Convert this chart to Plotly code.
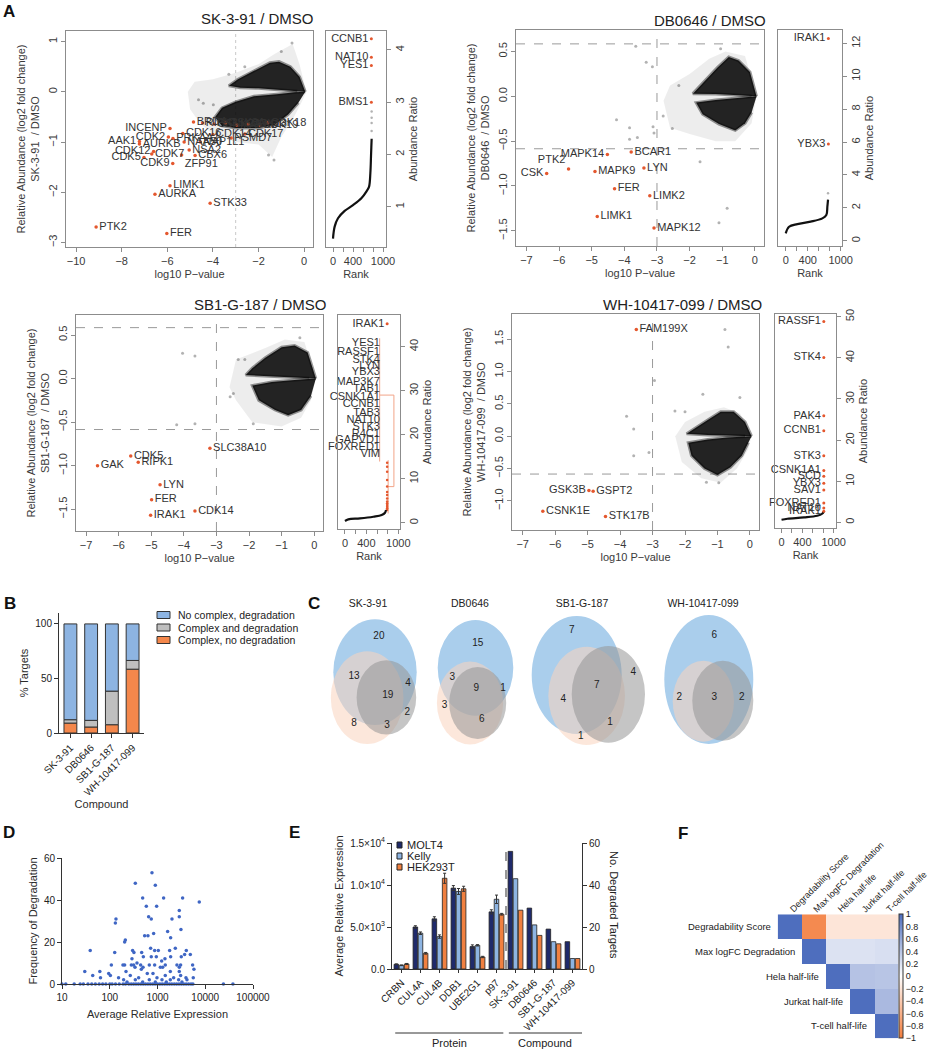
import plotly.graph_objects as go

W, H = 928, 1050
FONT = "Liberation Sans, Arial, Helvetica, sans-serif"
INK = "#2b2b2b"
RED_PT = "#E4572E"

# ======================= DATA =======================
# ---- Panel A1 : SK-3-91 / DMSO (volcano) ----
sk_genes = ["PTK2", "FER", "AURKA", "LIMK1", "STK33", "CDK9", "ZFP91", "CBX6", "NSA2", "CDK7",
            "CDK5", "CDK12", "AURKB", "AAK1", "CDK2", "INCENP",
            "PRKAA1", "CDK16", "NAA50", "NAP1L1", "CDK14", "PSMD7", "CDK17",
            "BRD4", "RIPK2", "CSNK2A2", "GSK3A", "MAPK3", "CDK13", "CDK19", "CDK18"]
sk_logp = [-9.12, -6.02, -6.54, -5.88, -4.12, -5.76, -5.37, -4.78, -5.04, -6.68,
           -7.02, -6.60, -7.22, -7.22, -5.95, -5.88,
           -5.75, -5.32, -5.26, -4.55, -4.00, -3.20, -2.60,
           -4.85, -4.45, -3.95, -3.45, -2.95, -2.45, -1.95, -1.60]
sk_lfc = [-2.69, -2.82, -2.04, -1.87, -2.22, -1.43, -1.26, -1.27, -1.16, -1.24,
          -1.31, -1.19, -1.04, -0.99, -0.90, -0.73,
          -0.93, -0.83, -1.00, -1.00, -0.85, -0.92, -0.84,
          -0.60, -0.62, -0.64, -0.62, -0.66, -0.64, -0.66, -0.62]
sk_halo_x = [0.1, -0.2, -0.5, -0.9, -1.3, -2.0, -3.0, -4.0, -4.8, -5.1, -5.0, -4.6, -4.0, -3.0, -2.0, -1.4, -1.0, -0.5, -0.1]
sk_halo_y = [0.0, 0.55, 0.95, 0.85, 0.75, 0.55, 0.38, 0.25, 0.2, 0.0, -0.35, -0.6, -0.85, -1.0, -1.05, -1.3, -0.9, -0.55, -0.2]
sk_up_x = [0.05, -0.2, -0.6, -1.1, -1.5, -2.2, -2.9, -3.3, -2.8, -2.0, -1.0, -0.3]
sk_up_y = [0.0, 0.3, 0.5, 0.6, 0.58, 0.42, 0.25, 0.12, 0.08, 0.07, 0.04, 0.01]
sk_lo_x = [0.05, -0.4, -1.2, -2.2, -3.0, -3.6, -3.9, -3.6, -3.0, -2.0, -1.3, -0.7, -0.25]
sk_lo_y = [0.0, -0.01, -0.05, -0.09, -0.2, -0.32, -0.5, -0.68, -0.72, -0.72, -0.66, -0.45, -0.22]
sk_out_x = [-0.53, -1.32, -1.56, -4.42, -3.98, -4.63, -2.6, -3.3, -1.0]
sk_out_y = [0.97, -1.36, -1.26, -0.23, -0.26, -0.16, 0.5, 0.35, 0.8]
# SK-3-91 rank plot
sk_rank_curve_x = [0, 33, 100, 233, 400, 567, 667, 720, 747, 760, 767, 773]
sk_rank_curve_y = [0.39, 0.62, 0.78, 0.92, 1.03, 1.16, 1.29, 1.38, 1.64, 1.96, 2.15, 2.3]
sk_rank_sparse_x = [773, 773, 773, 773]
sk_rank_sparse_y = [2.45, 2.6, 2.7, 2.82]
sk_rank_genes = ["CCNB1", "NAT10", "YES1", "BMS1"]
sk_rank_x = [767, 767, 767, 767]
sk_rank_y = [4.21, 3.86, 3.70, 3.0]

# ---- Panel A2 : DB0646 / DMSO ----
db_genes = ["MAPK14", "BCAR1", "PTK2", "CSK", "MAPK9", "LYN", "FER", "LIMK2", "LIMK1", "MAPK12"]
db_logp = [-4.52, -3.79, -5.71, -6.38, -4.90, -3.40, -4.30, -3.22, -4.83, -3.09]
db_lfc = [-0.65, -0.62, -0.81, -0.86, -0.84, -0.80, -1.03, -1.11, -1.34, -1.47]
db_halo_x = [0.05, -0.3, -0.9, -1.4, -2.0, -2.6, -2.8, -2.6, -2.0, -1.2, -0.6, -0.1]
db_halo_y = [0.0, 0.45, 0.5, 0.42, 0.25, 0.12, -0.05, -0.35, -0.42, -0.5, -0.5, -0.3]
db_up_x = [0.05, -0.15, -0.5, -0.8, -1.15, -1.6, -1.9, -1.2, -0.6, -0.1]
db_up_y = [0.0, 0.27, 0.4, 0.44, 0.32, 0.14, 0.03, 0.025, 0.015, 0.004]
db_lo_x = [0.05, -0.1, -0.6, -1.2, -1.8, -1.6, -1.1, -0.6, -0.3, -0.1]
db_lo_y = [0.0, -0.004, -0.02, -0.04, -0.07, -0.2, -0.31, -0.38, -0.3, -0.18]
db_out_x = [-3.65, -3.33, -3.14, -1.05, -4.24, -3.84, -3.60, -3.84, -3.12, -3.09, -2.81, -2.53, -2.33, -1.68, -0.85, -1.10]
db_out_y = [0.56, 0.38, 0.33, 0.53, -0.26, -0.35, -0.46, -0.48, -0.34, -0.41, -0.22, -0.36, 0.12, -0.73, -1.25, -1.41]
db_rank_curve_x = [0, 61, 212, 455, 667, 739, 758, 770]
db_rank_curve_y = [0.45, 0.85, 1.01, 1.16, 1.36, 1.56, 2.07, 2.5]
db_rank_sparse_x = [770]
db_rank_sparse_y = [2.88]
db_rank_genes = ["IRAK1", "YBX3"]
db_rank_x = [776, 776]
db_rank_y = [12.3, 5.88]

# ---- Panel A3 : SB1-G-187 / DMSO ----
sb_genes = ["SLC38A10", "CDK5", "RIPK1", "GAK", "LYN", "FER", "IRAK1", "CDK14"]
sb_logp = [-3.20, -5.63, -5.40, -6.65, -4.73, -4.99, -5.02, -3.66]
sb_lfc = [-0.80, -0.89, -0.96, -1.00, -1.22, -1.39, -1.57, -1.52]
sb_halo_x = [0.05, -0.3, -0.9, -1.5, -2.4, -2.6, -2.4, -1.9, -1.0, -0.4, -0.1]
sb_halo_y = [0.0, 0.42, 0.45, 0.35, 0.22, -0.1, -0.25, -0.5, -0.55, -0.45, -0.25]
sb_up_x = [0.05, -0.2, -0.6, -1.0, -1.5, -1.9, -2.1, -1.2, -0.5, -0.15]
sb_up_y = [0.0, 0.3, 0.38, 0.36, 0.24, 0.12, 0.04, 0.02, 0.008, 0.003]
sb_lo_x = [0.05, -0.15, -0.6, -1.3, -1.9, -1.7, -1.2, -0.8, -0.4, -0.1]
sb_lo_y = [0.0, -0.004, -0.015, -0.04, -0.08, -0.25, -0.36, -0.42, -0.36, -0.2]
sb_out_x = [-4.04, -3.66, -4.22, -3.66, -2.48, -2.58, -1.87, -0.44, -2.33, -2.13]
sb_out_y = [0.29, 0.26, -0.53, -0.52, -0.17, -0.21, -0.52, 0.47, 0.22, 0.22]
sb_rank_curve_x = [0, 62, 281, 531, 687, 750, 769]
sb_rank_curve_y = [0.38, 0.76, 0.98, 1.36, 1.74, 2.27, 2.88]
sb_rank_red_x = [790] * 14
sb_rank_red_y = [13.6, 12.7, 11.6, 9.7, 8.2, 7.0, 6.3, 5.5, 4.8, 4.4, 4.0, 3.6, 3.3, 2.9]
sb_rank_top_gene = ["IRAK1"]
sb_rank_top_x = [790]
sb_rank_top_y = [45.2]
sb_rank_list_genes = ["YES1", "RASSF1", "STK4", "LYN", "YBX3", "MAP3K7", "TAB1", "CSNK1A1", "CCNB1",
                      "TAB3", "NAT10", "STK3", "R4C1", "GAPVD1", "FOXRED1", "VIM"]
sb_rank_list_y = [40.8, 38.7, 37.0, 35.6, 34.1, 32.0, 30.3, 28.5, 26.9, 24.8, 23.3, 21.8, 20.2, 18.8, 17.1, 15.5]
sb_bracket_x = [650, 650, None, 650, 917, None, 917, 917, None, 809, 917, None, 809, 809]
sb_bracket_y = [41.9, 13.9, None, 29.0, 29.0, None, 29.0, 8.2, None, 8.2, 8.2, None, 14.2, 2.1]

# ---- Panel A4 : WH-10417-099 / DMSO ----
wh_genes = ["FAM199X", "GSK3B", "GSPT2", "CSNK1E", "STK17B"]
wh_logp = [-3.50, -4.96, -4.83, -6.38, -4.45]
wh_lfc = [1.65, -0.84, -0.85, -1.16, -1.24]
wh_halo_x = [0.05, -0.3, -0.8, -1.4, -2.0, -2.3, -2.1, -1.5, -0.9, -0.4, -0.05]
wh_halo_y = [0.0, 0.35, 0.45, 0.38, 0.22, 0.0, -0.4, -0.65, -0.72, -0.5, -0.2]
wh_up_x = [0.05, -0.15, -0.5, -0.9, -1.3, -1.7, -1.95, -1.3, -0.6, -0.15]
wh_up_y = [0.0, 0.22, 0.38, 0.38, 0.25, 0.12, 0.04, 0.02, 0.008, 0.002]
wh_lo_x = [0.05, -0.15, -0.7, -1.3, -1.9, -1.8, -1.4, -1.0, -0.6, -0.25, -0.05]
wh_lo_y = [0.0, -0.003, -0.02, -0.05, -0.1, -0.3, -0.5, -0.6, -0.48, -0.3, -0.1]
wh_out_x = [-0.77, -0.67, -2.94, -1.45, -0.31, -3.80, -3.58, -3.58, -3.11, -2.31, -0.96, -1.34, -2.0]
wh_out_y = [1.65, 1.38, 0.86, 0.65, 0.60, 0.31, 0.11, -0.30, -0.25, 0.39, -0.72, -0.71, 0.38]
wh_rank_curve_x = [0, 114, 430, 684, 778, 810]
wh_rank_curve_y = [0.65, 0.89, 1.21, 1.62, 2.1, 2.67]
wh_rank_genes = ["RASSF1", "STK4", "PAK4", "CCNB1", "STK3", "CSNK1A1", "SCD", "YBX3", "SAV1", "FOXRED1", "NAT10", "IRAK1"]
wh_rank_x = [810] * 12
wh_rank_y = [48.8, 40.1, 25.9, 22.3, 16.2, 12.6, 11.2, 9.5, 7.9, 4.7, 3.5, 2.7]

P_CUT = -3.0        # log10 P-value threshold
FC_CUT = 0.585      # log2(1.5)

# ---- Panel B ----
b_compounds = ["SK-3-91", "DB0646", "SB1-G-187", "WH-10417-099"]
b_complex_no_deg = [9.1, 5.5, 7.6, 58.5]
b_complex_and_deg = [3.1, 6.1, 30.8, 8.0]
b_no_complex_deg = [87.8, 88.4, 61.6, 33.5]
b_series = ["No complex, degradation", "Complex and degradation", "Complex, no degradation"]

# ---- Panel C (Venn counts) ----
c_titles = ["SK-3-91", "DB0646", "SB1-G-187", "WH-10417-099"]
c_counts_sk = [20, 13, 4, 19, 2, 8, 3]
c_counts_db = [15, 3, 9, 1, 3, 6]
c_counts_sb = [7, 4, 7, 4, 1, 1]
c_counts_wh = [6, 2, 3, 2]

# ---- Panel D ----
d_expr = [766, 343, 900, 489, 1343, 3357, 7499, 583, 959, 2858, 652, 741, 2009, 2858, 135, 131, 3097, 1629,
          830, 538, 631, 1884, 212, 205, 39, 127, 301, 321, 466, 718, 871, 1040, 1795, 2360, 4009, 4864,
          3698, 3148, 505, 741, 944, 1432, 1884, 292, 1222, 108, 189, 205, 283, 316, 444, 673, 871, 1455,
          2553, 3048, 5433, 372, 497, 338, 1146, 1282, 2858, 5794, 30, 62, 95, 219, 458, 611, 1854, 2858,
          44, 64, 103, 153, 269, 403, 804, 975, 1455, 2178, 3048, 3945, 5610, 195, 343, 673, 1242, 1854,
          2767, 4140, 230, 489, 900, 1528, 3251,
          10, 12, 18, 24, 28, 35, 42, 50, 60, 71, 83, 100, 112, 132, 158, 190, 214, 251, 282, 316, 355,
          398, 447, 501, 562, 631, 708, 794, 891, 1000, 1122, 1259, 1413, 1585, 1778, 1995, 2239, 2512,
          2818, 3162, 3548, 3981, 4467, 5012, 5500, 24000, 38000]
d_freq = [53, 48, 47, 41, 41, 41, 39, 37, 37, 35, 32, 31, 31, 32, 31, 29, 26, 25,
          24, 23, 23, 22, 21, 20, 16, 15, 16, 15, 15, 17, 16, 16, 16, 17, 16, 14,
          14, 13, 13, 13, 13, 12, 13, 12, 11, 9, 9, 9, 9, 9, 9, 9, 9, 9,
          9, 9, 9, 10, 8, 8, 8, 8, 8, 7, 6, 6, 5, 6, 7, 5, 6, 6,
          4, 3, 4, 3, 4, 3, 5, 3, 4, 3, 4, 3, 3, 2, 2, 2, 2, 2,
          2, 2, 1, 1, 1, 1, 1,
          0, 0, 0, 0, 0, 0, 0, 0, 0, 0, 0, 0, 0, 0, 0, 0, 0, 0, 0, 0, 0,
          0, 0, 0, 0, 0, 0, 0, 0, 0, 0, 0, 0, 0, 0, 0, 0, 0,
          0, 0, 0, 0, 0, 0, 0, 0, 0]

# ---- Panel E ----
e_proteins = ["CRBN", "CUL4A", "CUL4B", "DDB1", "UBE2G1", "p97"]
e_compounds = ["SK-3-91", "DB0646", "SB1-G-187", "WH-10417-099"]
e_lines = ["MOLT4", "Kelly", "HEK293T"]
e_molt4_expr = [560, 5000, 5970, 9630, 2670, 6800]
e_kelly_expr = [440, 4260, 3860, 9230, 2820, 8300]
e_hek_expr = [600, 1870, 10800, 9550, 1430, 6520]
e_molt4_err = [50, 150, 250, 300, 200, 250]
e_kelly_err = [40, 150, 200, 350, 80, 500]
e_hek_err = [60, 100, 600, 300, 80, 100]
e_molt4_deg = [56, 29, 19, 13]
e_kelly_deg = [43, 21, 13, 5]
e_hek_deg = [28, 16, 12, 5]

# ---- Panel F ----
f_labels = ["Degradability Score", "Max logFC Degradation", "Hela half-life", "Jurkat half-life", "T-cell half-life"]
f_corr = [[1.0, -0.9, -0.2, -0.2, -0.2],
          [None, 1.0, 0.2, 0.2, 0.22],
          [None, None, 1.0, 0.42, 0.4],
          [None, None, None, 1.0, 0.48],
          [None, None, None, None, 1.0]]


# ======================= HELPERS =======================
def dxp(l, r):
    return [l / W, r / W]


def dyp(t, b):
    return [1 - b / H, 1 - t / H]


def px(x):
    return x / W


def py(y):
    return 1 - y / H


fig = go.Figure()
layout = dict(width=W, height=H, margin=dict(l=0, r=0, t=0, b=0, pad=0, autoexpand=False), autosize=False,
              paper_bgcolor="white", plot_bgcolor="white", barmode="overlay",
              font=dict(family=FONT, color=INK), showlegend=False)
annotations = []
shapes = []


def note(text, x, y, size=11, xanchor="center", yanchor="middle", angle=0, color="#222", xref="paper"):
    annotations.append(dict(text=text, x=x, y=y, xref=xref, yref="paper", xanchor=xanchor, yanchor=yanchor,
                            textangle=angle, showarrow=False, font=dict(size=size, color=color, family=FONT)))


def r_axis(domain, rng, anchor, tickvals, angle=None, side=None, title=None, fmt=None, minor=None):
    d = dict(domain=domain, range=rng, anchor=anchor, showline=True, mirror=True, automargin=False,
             linecolor="#8c8c8c", linewidth=1, ticks="outside", ticklen=4, tickcolor="#8c8c8c",
             showgrid=False, zeroline=False, tickvals=tickvals,
             tickfont=dict(size=11, color="#3a3a3a", family=FONT))
    if angle is not None:
        d["tickangle"] = angle
    if side:
        d["side"] = side
    if fmt:
        d["tickformat"] = fmt
    if minor:
        d["minor"] = dict(tickvals=minor, ticks="outside", ticklen=4, tickcolor="#8c8c8c")
    if title:
        d["title"] = dict(text=title, font=dict(size=11, color="#3a3a3a", family=FONT), standoff=4)
    return d


def volcano(i, halo, up, lo, out, genes, xs, ys, tpos):
    xa, ya = ("x", "y") if i == 1 else ("x%d" % i, "y%d" % i)
    fig.add_trace(go.Scatter(x=halo[0], y=halo[1], mode="lines", fill="toself", fillcolor="rgba(0,0,0,0.07)",
                             line=dict(width=0), hoverinfo="skip", showlegend=False, xaxis=xa, yaxis=ya))
    for poly in (up, lo):
        fig.add_trace(go.Scatter(x=poly[0], y=poly[1], mode="lines", fill="toself", fillcolor="rgba(12,12,12,0.9)",
                                 line=dict(width=3, color="rgba(0,0,0,0.4)"),
                                 hoverinfo="skip", showlegend=False, xaxis=xa, yaxis=ya))
    fig.add_trace(go.Scatter(x=out[0], y=out[1], mode="markers", marker=dict(size=3, color="rgba(0,0,0,0.3)"),
                             hoverinfo="skip", showlegend=False, xaxis=xa, yaxis=ya))
    fig.add_trace(go.Scatter(x=xs, y=ys, mode="markers+text", text=genes, textposition=tpos,
                             textfont=dict(size=11, color="#333333", family=FONT),
                             marker=dict(size=3.5, color=RED_PT), cliponaxis=False,
                             hoverinfo="skip", showlegend=False, xaxis=xa, yaxis=ya))


def rank_plot(i, curve, sparse, genes, xs, ys, tpos):
    xa, ya = "x%d" % i, "y%d" % i
    fig.add_trace(go.Scatter(x=curve[0], y=curve[1], mode="lines", line=dict(color="#111111", width=2.2, shape="spline"),
                             hoverinfo="skip", showlegend=False, xaxis=xa, yaxis=ya))
    if sparse:
        fig.add_trace(go.Scatter(x=sparse[0], y=sparse[1], mode="markers", marker=dict(size=2.5, color="rgba(0,0,0,0.3)"),
                                 hoverinfo="skip", showlegend=False, xaxis=xa, yaxis=ya))
    fig.add_trace(go.Scatter(x=xs, y=ys, mode="markers+text", text=genes, textposition=tpos,
                             textfont=dict(size=11, color="#333333", family=FONT),
                             marker=dict(size=3, color=RED_PT), cliponaxis=False,
                             hoverinfo="skip", showlegend=False, xaxis=xa, yaxis=ya))


# ======================= PANEL A =======================
sk_tpos = (["middle right"] * 5 + ["middle left", "bottom right", "middle right", "middle right", "middle right",
                                   "middle left", "middle left", "middle right", "middle left", "middle left", "middle left"]
           + ["middle right"] * 15)
volcano(1, (sk_halo_x, sk_halo_y), (sk_up_x, sk_up_y), (sk_lo_x, sk_lo_y), (sk_out_x, sk_out_y),
        sk_genes, sk_logp, sk_lfc, sk_tpos)
rank_plot(2, (sk_rank_curve_x, sk_rank_curve_y), (sk_rank_sparse_x, sk_rank_sparse_y),
          sk_rank_genes, sk_rank_x, sk_rank_y, ["middle left"] * 4)

db_tpos = ["middle left", "middle right", "top left", "middle left", "middle right", "middle right",
           "middle right", "middle right", "middle right", "middle right"]
volcano(3, (db_halo_x, db_halo_y), (db_up_x, db_up_y), (db_lo_x, db_lo_y), (db_out_x, db_out_y),
        db_genes, db_logp, db_lfc, db_tpos)
rank_plot(4, (db_rank_curve_x, db_rank_curve_y), (db_rank_sparse_x, db_rank_sparse_y),
          db_rank_genes, db_rank_x, db_rank_y, ["middle left", "middle left"])

volcano(5, (sb_halo_x, sb_halo_y), (sb_up_x, sb_up_y), (sb_lo_x, sb_lo_y), (sb_out_x, sb_out_y),
        sb_genes, sb_logp, sb_lfc, ["middle right"] * len(sb_genes))
fig.add_trace(go.Scatter(x=sb_bracket_x, y=sb_bracket_y, mode="lines", line=dict(color="#F2A488", width=1),
                         hoverinfo="skip", showlegend=False, xaxis="x6", yaxis="y6"))
fig.add_trace(go.Scatter(x=sb_rank_red_x, y=sb_rank_red_y, mode="markers", marker=dict(size=2.5, color=RED_PT),
                         hoverinfo="skip", showlegend=False, xaxis="x6", yaxis="y6"))
fig.add_trace(go.Scatter(x=[655] * len(sb_rank_list_genes), y=sb_rank_list_y, mode="text", text=sb_rank_list_genes,
                         textposition="middle left", textfont=dict(size=11, color="#333333", family=FONT),
                         cliponaxis=False, hoverinfo="skip", showlegend=False, xaxis="x6", yaxis="y6"))
rank_plot(6, (sb_rank_curve_x, sb_rank_curve_y), None, sb_rank_top_gene, sb_rank_top_x, sb_rank_top_y, ["middle left"])

volcano(7, (wh_halo_x, wh_halo_y), (wh_up_x, wh_up_y), (wh_lo_x, wh_lo_y), (wh_out_x, wh_out_y),
        wh_genes, wh_logp, wh_lfc, ["middle right", "middle left", "middle right", "middle right", "middle right"])
rank_plot(8, (wh_rank_curve_x, wh_rank_curve_y), None, wh_rank_genes, wh_rank_x, wh_rank_y, ["middle left"] * 12)

rank_ticks = [0, 400, 1000]
rank_minor = [200, 600, 800]
yt = "Relative Abundance (log2 fold change)<br>%s  / DMSO"

layout["xaxis"] = r_axis(dxp(66, 313), [-10.44, 0.39], "y", [-10, -8, -6, -4, -2, 0], title="log10 P\u2212value")
layout["yaxis"] = r_axis(dyp(31, 247), [-3.09, 1.21], "x", [-3, -2, -1, 0, 1], angle=-90, title=yt % "SK-3-91")
layout["xaxis2"] = r_axis(dxp(326, 386), [-140, 1060], "y2", rank_ticks, minor=rank_minor, title="Rank")
layout["yaxis2"] = r_axis(dyp(31, 247), [0.23, 4.36], "x2", [1, 2, 3, 4], angle=-90, side="right", title="Abundance Ratio")

layout["xaxis3"] = r_axis(dxp(516, 764), [-7.32, 0.28], "y3", [-7, -6, -5, -4, -3, -2, -1, 0], title="log10 P\u2212value")
layout["yaxis3"] = r_axis(dyp(30, 246), [-1.67, 0.74], "x3", [-1.5, -1, -0.5, 0, 0.5], angle=-90, fmt=".1f", title=yt % "DB0646")
layout["xaxis4"] = r_axis(dxp(778, 842), [-140, 1024], "y4", rank_ticks, minor=rank_minor, title="Rank")
layout["yaxis4"] = r_axis(dyp(30, 246), [-0.32, 12.81], "x4", [0, 2, 4, 6, 8, 10, 12], angle=-90, side="right", title="Abundance Ratio")

layout["xaxis5"] = r_axis(dxp(76, 323), [-7.31, 0.27], "y5", [-7, -6, -5, -4, -3, -2, -1, 0], title="log10 P\u2212value")
layout["yaxis5"] = r_axis(dyp(315, 531), [-1.75, 0.73], "x5", [-1.5, -1, -0.5, 0, 0.5], angle=-90, fmt=".1f", title=yt % "SB1-G-187")
layout["xaxis6"] = r_axis(dxp(338, 400), [-131, 1031], "y6", rank_ticks, minor=rank_minor, title="Rank")
layout["yaxis6"] = r_axis(dyp(315, 529), [-1.43, 47.2], "x6", [0, 10, 20, 30, 40], angle=-90, side="right", title="Abundance Ratio")

layout["xaxis7"] = r_axis(dxp(512, 759), [-7.33, 0.28], "y7", [-7, -6, -5, -4, -3, -2, -1, 0], title="log10 P\u2212value")
layout["yaxis7"] = r_axis(dyp(314, 530), [-1.45, 1.89], "x7", [-1, -0.5, 0, 0.5, 1, 1.5], angle=-90, fmt=".1f", title=yt % "WH-10417-099")
layout["xaxis8"] = r_axis(dxp(775, 836), [-125, 1044], "y8", rank_ticks, minor=rank_minor, title="Rank")
layout["yaxis8"] = r_axis(dyp(314, 528), [-1.36, 50.65], "x8", [0, 10, 20, 30, 40, 50], angle=-90, side="right", title="Abundance Ratio")

# threshold lines
dash = dict(color="#9a9a9a", width=1, dash="dash")
shapes.append(dict(type="line", xref="x", yref="y domain", x0=P_CUT, x1=P_CUT, y0=0, y1=1,
                   line=dict(color="#c8c8c8", width=1, dash="dot"), layer="below"))
for i, hz in ((3, (FC_CUT, -FC_CUT)), (5, (FC_CUT, -FC_CUT)), (7, (-FC_CUT,))):
    shapes.append(dict(type="line", xref="x%d" % i, yref="y%d domain" % i, x0=P_CUT, x1=P_CUT, y0=0, y1=1,
                       line=dash, layer="below"))
    for h in hz:
        shapes.append(dict(type="line", xref="x%d domain" % i, yref="y%d" % i, x0=0, x1=1, y0=h, y1=h,
                           line=dash, layer="below"))

for txt, x, y in (("SK-3-91 / DMSO", 257, 19), ("DB0646 / DMSO", 710, 20),
                  ("SB1-G-187 / DMSO", 260, 304), ("WH-10417-099 / DMSO", 682, 304)):
    note(txt, px(x), py(y), size=15)

# ======================= PANEL B =======================
B_BLUE, B_GRAY, B_ORANGE = "#8DB4E2", "#BFBFBF", "#F4874B"
base_gray = b_complex_no_deg
base_blue = [a + b for a, b in zip(b_complex_no_deg, b_complex_and_deg)]
for name, vals, base, col in ((b_series[2], b_complex_no_deg, None, B_ORANGE),
                              (b_series[1], b_complex_and_deg, base_gray, B_GRAY),
                              (b_series[0], b_no_complex_deg, base_blue, B_BLUE)):
    fig.add_trace(go.Bar(x=b_compounds, y=vals, base=base, name=name, width=0.62,
                         marker=dict(color=col, line=dict(color="#333333", width=1)),
                         xaxis="x9", yaxis="y9", hoverinfo="skip"))

gp_tick = dict(size=10, color="#222222", family=FONT)
layout["xaxis9"] = dict(domain=dxp(59, 144), anchor="y9", showline=True, linecolor="#333", linewidth=1, automargin=False,
                        ticks="outside", ticklen=4, tickcolor="#333", tickangle=-45, tickfont=gp_tick,
                        range=[-0.55, 3.55], title=dict(text="Compound", font=dict(size=11, family=FONT), standoff=2))
layout["yaxis9"] = dict(domain=dyp(613, 733), anchor="x9", range=[0, 110], showline=True, linecolor="#333", linewidth=1,
                        ticks="outside", ticklen=4, tickcolor="#333", tickvals=[0, 50, 100], tickfont=gp_tick,
                        showgrid=False, zeroline=False, automargin=False,
                        title=dict(text="% Targets", font=dict(size=11, family=FONT), standoff=4))
for k, (lab, col) in enumerate(zip(b_series, (B_BLUE, B_GRAY, B_ORANGE))):
    yc = 615 + k * 12.5
    shapes.append(dict(type="rect", xref="paper", yref="paper", x0=px(157), x1=px(170), y0=py(yc + 3.5), y1=py(yc - 3.5),
                       fillcolor=col, line=dict(color="#333", width=1)))
    note(lab, px(176), py(yc), size=10.5, xanchor="left")

# ======================= PANEL C (Venn) =======================
venn_blue = "rgb(170,206,236)"
venn_peach = "rgba(250,212,190,0.55)"
venn_gray = "rgba(150,150,150,0.55)"
venn_ellipses = [
    [(333.3, 416.7, 619.3, 725.0), (330.8, 403.5, 651.3, 744.1), (356.6, 416.2, 660.3, 734.5)],
    [(437.7, 513.3, 620.0, 715.7), (436.9, 503.1, 661.5, 744.4), (449.2, 506.2, 666.9, 739.0)],
    [(531.7, 621.7, 616.0, 734.0), (548.3, 625.0, 646.7, 745.0), (571.7, 645.0, 646.0, 742.7)],
    [(664.3, 753.3, 615.0, 744.0), (672.7, 734.0, 660.7, 741.7), (692.3, 753.3, 660.7, 740.7)],
]
venn_title_pos = [(368, 604), (470, 604), (582, 604), (703, 604)]
venn_count_pos = [
    [(378.9, 636.9), (354.1, 676.3), (408.1, 683.3), (387.8, 695.5), (407.3, 712.1), (354.1, 723.3), (387.1, 725.9)],
    [(477.7, 643.3), (452.2, 677.4), (476.4, 688.6), (503.1, 688.0), (444.6, 705.2), (481.7, 719.6)],
    [(571.7, 630.7), (633.3, 672.7), (596.7, 685.7), (563.3, 699.3), (610.0, 722.3), (580.7, 736.7)],
    [(714.3, 635.7), (679.3, 697.7), (714.3, 697.7), (741.7, 697.7)],
]
venn_counts = [c_counts_sk, c_counts_db, c_counts_sb, c_counts_wh]
for ells in venn_ellipses:
    for (x0, x1, y0, y1), col in zip(ells, (venn_blue, venn_peach, venn_gray)):
        shapes.append(dict(type="circle", xref="x10", yref="y10", x0=x0, x1=x1, y0=y0, y1=y1,
                           fillcolor=col, line=dict(width=0), layer="below"))
for pos, cnt in zip(venn_count_pos, venn_counts):
    fig.add_trace(go.Scatter(x=[p[0] for p in pos], y=[p[1] for p in pos], mode="text", text=[str(c) for c in cnt],
                             textfont=dict(size=10, color="#222", family=FONT), hoverinfo="skip",
                             showlegend=False, xaxis="x10", yaxis="y10"))
for (x, y), t in zip(venn_title_pos, c_titles):
    fig.add_trace(go.Scatter(x=[x], y=[y], mode="text", text=[t], textfont=dict(size=10.5, color="#222", family=FONT),
                             hoverinfo="skip", showlegend=False, xaxis="x10", yaxis="y10", cliponaxis=False))
layout["xaxis10"] = dict(domain=dxp(300, 770), range=[300, 770], anchor="y10", visible=False, fixedrange=True)
layout["yaxis10"] = dict(domain=dyp(595, 760), range=[760, 595], anchor="x10", visible=False, fixedrange=True)

# ======================= PANEL D =======================
fig.add_trace(go.Scatter(x=d_expr, y=d_freq, mode="markers", marker=dict(size=3.5, color="#3F66C4"),
                         cliponaxis=False, hoverinfo="skip", showlegend=False, xaxis="x11", yaxis="y11"))
layout["xaxis11"] = dict(domain=dxp(62, 253), anchor="y11", type="log", range=[1, 5], showline=True, linecolor="#333",
                         linewidth=1, ticks="outside", ticklen=4, tickcolor="#333", automargin=False,
                         tickvals=[10, 100, 1000, 10000, 100000], ticktext=["10", "100", "1000", "10000", "100000"],
                         tickfont=gp_tick, showgrid=False, zeroline=False,
                         title=dict(text="Average Relative Expression", font=dict(size=11, family=FONT), standoff=8))
layout["yaxis11"] = dict(domain=dyp(858, 984), anchor="x11", range=[0, 60], showline=True, linecolor="#333", linewidth=1,
                         ticks="outside", ticklen=4, tickcolor="#333", tickvals=[0, 20, 40, 60], tickfont=gp_tick,
                         showgrid=False, zeroline=False, automargin=False,
                         title=dict(text="Frequency of Degradation", font=dict(size=11, family=FONT), standoff=4))

# ======================= PANEL E =======================
E_COLS = ["#1F2A6B", "#8DB4E2", "#F08040"]
E_OFF = [-0.39, -0.12, 0.15]
E_W = 0.24
expr = [e_molt4_expr, e_kelly_expr, e_hek_expr]
errs = [e_molt4_err, e_kelly_err, e_hek_err]
degs = [e_molt4_deg, e_kelly_deg, e_hek_deg]
for k in range(3):
    fig.add_trace(go.Bar(x=e_proteins, y=expr[k], name=e_lines[k], offset=E_OFF[k], width=E_W,
                         marker=dict(color=E_COLS[k], line=dict(color="#222", width=0.8)),
                         error_y=dict(type="data", array=errs[k], color="#333", thickness=1, width=1.5),
                         xaxis="x12", yaxis="y12", hoverinfo="skip"))
for k in range(3):
    fig.add_trace(go.Bar(x=e_compounds, y=degs[k], name=e_lines[k], offset=E_OFF[k], width=E_W,
                         marker=dict(color=E_COLS[k], line=dict(color="#222", width=0.8)),
                         xaxis="x12", yaxis="y13", hoverinfo="skip"))
layout["xaxis12"] = dict(domain=dxp(392, 582), anchor="y12", type="category", categoryorder="array",
                         categoryarray=e_proteins + e_compounds, range=[-0.5, 9.5], showline=True, automargin=False,
                         linecolor="#333", linewidth=1, ticks="outside", ticklen=3, tickcolor="#333",
                         tickangle=-45, tickfont=gp_tick)
layout["yaxis12"] = dict(domain=dyp(843, 969), anchor="x12", range=[0, 15000], showline=True, linecolor="#333",
                         linewidth=1, ticks="outside", ticklen=4, tickcolor="#333", automargin=False,
                         tickvals=[0, 5000, 10000, 15000],
                         ticktext=["0.0", "5.0\u00d710<sup>3</sup>", "1.0\u00d710<sup>4</sup>", "1.5\u00d710<sup>4</sup>"],
                         tickfont=gp_tick, showgrid=False, zeroline=False,
                         title=dict(text="Average Relative Expression", font=dict(size=11, family=FONT), standoff=4))
layout["yaxis13"] = dict(overlaying="y12", side="right", anchor="x12", range=[0, 60], showline=True, linecolor="#333",
                         linewidth=1, ticks="outside", ticklen=4, tickcolor="#333", tickvals=[0, 20, 40, 60],
                         tickfont=gp_tick, showgrid=False, zeroline=False, automargin=False)
for k, lab in enumerate(e_lines):
    yc = 845 + k * 11
    shapes.append(dict(type="rect", xref="paper", yref="paper", x0=px(397), x1=px(402), y0=py(yc + 3), y1=py(yc - 3),
                       fillcolor=E_COLS[k], line=dict(color="#222", width=1)))
    note(lab, px(405), py(yc), size=11, xanchor="left")
shapes.append(dict(type="line", xref="x12", yref="y12", x0=5.5, x1=5.5, y0=0, y1=15000,
                   line=dict(color="#777", width=1.5, dash="dash")))
for x0, x1, lab in ((-0.33, 5.36, "Protein"), (5.65, 9.5, "Compound")):
    shapes.append(dict(type="line", xref="x12", yref="paper", x0=x0, x1=x1, y0=py(1033), y1=py(1033),
                       line=dict(color="#333", width=1)))
    note(lab, (x0 + x1) / 2, py(1043), size=11, xref="x12")
note("No. Degraded Targets", px(614), py(905), size=11, angle=90)

# ======================= PANEL F =======================
n = len(f_labels)
fig.add_trace(go.Heatmap(z=f_corr, x=list(range(n)), y=list(range(n)), zmin=-1, zmax=1,
                         colorscale=[[0, "rgb(243,125,60)"], [0.5, "rgb(255,255,255)"], [1, "rgb(78,110,190)"]],
                         xgap=0, ygap=0, hoverinfo="skip", xaxis="x14", yaxis="y14",
                         colorbar=dict(x=px(898.5), xanchor="left", y=py(976.3), yanchor="middle",
                                       len=124 / H, lenmode="fraction", thickness=4, outlinewidth=1,
                                       outlinecolor="#333", ticks="", tickvals=[1, 0.8, 0.6, 0.4, 0.2, 0, -0.2, -0.4, -0.6, -0.8, -1],
                                       ticktext=["1", "0.8", "0.6", "0.4", "0.2", "0", "\u22120.2", "\u22120.4", "\u22120.6", "\u22120.8", "\u22121"],
                                       tickfont=dict(size=9, color="#222", family=FONT), xpad=0, ypad=0)))
layout["xaxis14"] = dict(domain=dxp(777.7, 898.3), range=[-0.5, n - 0.5], anchor="y14", visible=False)
layout["yaxis14"] = dict(domain=dyp(914.3, 1038.3), range=[n - 0.5, -0.5], anchor="x14", visible=False)
cw = (898.3 - 777.7) / n
rh = (1038.3 - 914.3) / n
for i, lab in enumerate(f_labels):
    note(lab, px(777.7 + i * cw - 5), py(914.3 + (i + 0.5) * rh), size=9.5, xanchor="right")
    note(lab, px(777.7 + (i + 0.5) * cw - 5), py(917), size=9, xanchor="left", yanchor="bottom", angle=-45)

# ======================= PANEL LETTERS =======================
for L, x, y in (("A", 1, 0), ("B", 2, 592), ("C", 306, 592), ("D", 1, 821), ("E", 287, 821), ("F", 676, 822)):
    note("<b>%s</b>" % L, px(x), py(y), size=17, xanchor="left", yanchor="top", color="#111")

layout["annotations"] = annotations
layout["shapes"] = shapes
fig.update_layout(**layout)
# remove the browser's default 8px page margin so the figure sits at the window's top-left corner
fig.write_html("out.html", config={"displayModeBar": False},
               post_script="document.body.style.margin='0';document.body.style.padding='0';")
